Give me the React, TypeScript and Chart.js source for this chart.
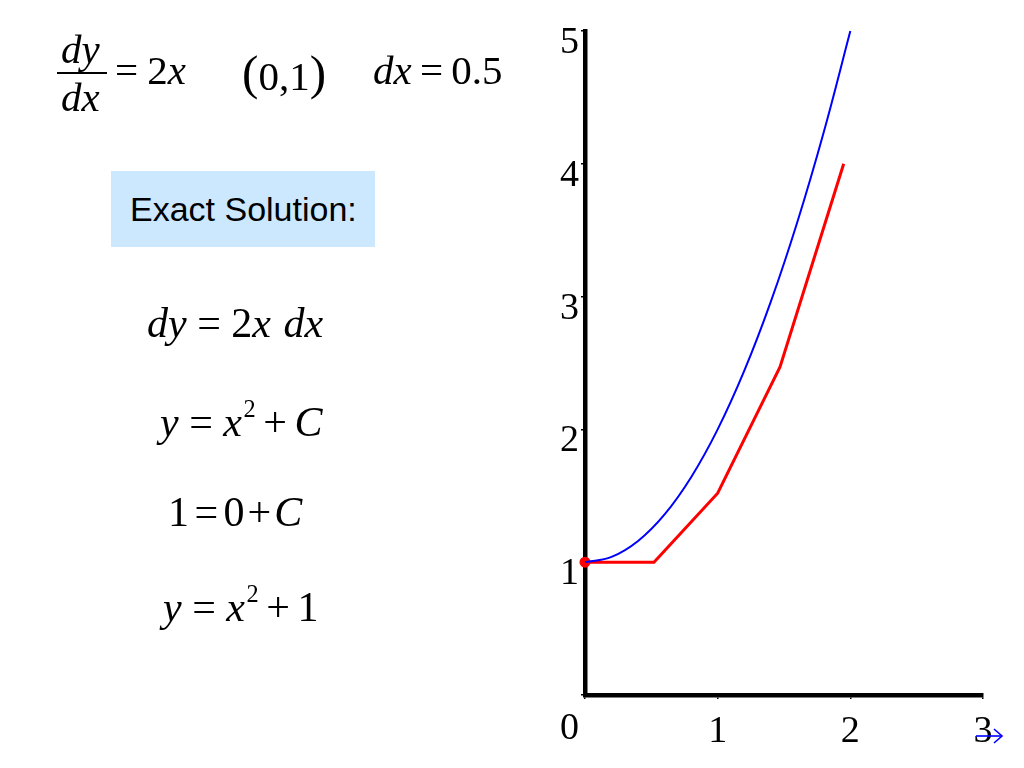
import React, { useEffect, useRef } from "react";
import { Chart, registerables } from "chart.js";

Chart.register(...registerables);

// Exact solution y = x^2 + 1
const exactX = [0, 0.2, 0.4, 0.6, 0.8, 1, 1.2, 1.4, 1.6, 1.8, 2];
const exactY = [1, 1.04, 1.16, 1.36, 1.64, 2, 2.44, 2.96, 3.56, 4.24, 5];
// Euler approximation (red polyline vertices)
const eulerX = [0, 0.52, 1, 1.47, 1.95];
const eulerY = [1, 1, 1.52, 2.47, 4];
// Initial point
const startX = [0];
const startY = [1];
// Axis ranges / ticks
const xTicks = [0, 1, 2, 3];
const yTicks = [0, 1, 2, 3, 4, 5];

const SERIF = "'Liberation Serif', 'Times New Roman', serif";
const SANS = "'Liberation Sans', Arial, sans-serif";

function pts(xs: number[], ys: number[]) {
  return xs.map((x, i) => ({ x, y: ys[i] }));
}

type EqProps = { left: number; baseline: number; size: number; children: React.ReactNode };
function Eq({ left, baseline, size, children }: EqProps) {
  return (
    <div
      style={{
        position: "absolute",
        left,
        top: baseline - 0.8375 * size,
        fontSize: size,
        lineHeight: 1,
        fontFamily: SERIF,
        whiteSpace: "nowrap",
        color: "#000",
      }}
    >
      {children}
    </div>
  );
}

const I = ({ children }: { children: React.ReactNode }) => (
  <span style={{ fontStyle: "italic" }}>{children}</span>
);
const Op = ({ children, m = 0.22 }: { children: React.ReactNode; m?: number }) => (
  <span style={{ margin: `0 ${m}em` }}>{children}</span>
);
const Sup = ({ children }: { children: React.ReactNode }) => (
  <span style={{ fontSize: "0.58em", verticalAlign: "0.8em", marginLeft: "0.06em" }}>{children}</span>
);

export default function App() {
  const canvasRef = useRef<HTMLCanvasElement | null>(null);

  useEffect(() => {
    if (!canvasRef.current) return;
    const chart = new Chart(canvasRef.current, {
      type: "scatter",
      data: {
        datasets: [
          {
            label: "Exact",
            data: pts(exactX, exactY),
            showLine: true,
            borderColor: "#0000FF",
            borderWidth: 2,
            pointRadius: 0,
            tension: 0.4,
            clip: false,
          },
          {
            label: "Euler",
            data: pts(eulerX, eulerY),
            showLine: true,
            borderColor: "#FF0000",
            borderWidth: 3,
            pointRadius: 0,
            tension: 0,
            clip: false,
          },
          {
            label: "Start",
            data: pts(startX, startY),
            showLine: false,
            pointRadius: 5.5,
            pointBackgroundColor: "#FF0000",
            pointBorderColor: "#FF0000",
            pointBorderWidth: 0,
            clip: false,
          },
        ],
      },
      options: {
        responsive: false,
        animation: false,
        devicePixelRatio: 1,
        layout: { padding: { top: 31, right: 41, left: 0, bottom: 0 } },
        plugins: { legend: { display: false }, tooltip: { enabled: false } },
        scales: {
          x: {
            type: "linear",
            min: xTicks[0],
            max: xTicks[xTicks.length - 1],
            afterBuildTicks: (s: any) => {
              s.ticks = xTicks.map((v) => ({ value: v }));
            },
            afterFit: (s: any) => {
              s.height = 73;
            },
            ticks: {
              autoSkip: false,
              maxRotation: 0,
              padding: 10,
              color: "#000",
              font: { family: SERIF, size: 38, lineHeight: 1.2 },
              callback: (v: any) => (Number(v) === 0 ? "" : String(v)),
            },
            grid: {
              drawOnChartArea: false,
              drawTicks: true,
              tickLength: 4,
              color: "#000",
              lineWidth: 1.5,
            },
            border: { display: true, color: "#000", width: 4.5 },
          },
          y: {
            type: "linear",
            min: yTicks[0],
            max: yTicks[yTicks.length - 1],
            afterBuildTicks: (s: any) => {
              s.ticks = yTicks.map((v) => ({ value: v }));
            },
            afterFit: (s: any) => {
              s.width = 585;
            },
            ticks: {
              autoSkip: false,
              padding: 2,
              color: "#000",
              font: (ctx: any) => ({
                family: SERIF,
                size: 38,
                lineHeight: ctx && ctx.tick && ctx.tick.value === 0 ? "34px" : "24px",
              }),
              callback: (v: any) =>
                Number(v) === 0 ? ["", "", String(v)] : ["", String(v)],
            },
            grid: {
              drawOnChartArea: false,
              drawTicks: true,
              tickLength: 4,
              color: "#000",
              lineWidth: 1.5,
            },
            border: { display: true, color: "#000", width: 4.5 },
          },
        },
      },
    });
    return () => chart.destroy();
  }, []);

  return (
    <div style={{ position: "absolute", left: 0, top: 0, width: 1024, height: 768, background: "#fff", overflow: "hidden" }}>
      <canvas
        ref={canvasRef}
        width={1024}
        height={768}
        style={{ position: "absolute", left: 0, top: 0, width: 1024, height: 768 }}
      />

      {/* dy/dx = 2x */}
      <Eq left={61} baseline={63} size={41}>
        <I>dy</I>
      </Eq>
      <div style={{ position: "absolute", left: 57, top: 72, width: 50, height: 2, background: "#000" }} />
      <Eq left={61} baseline={111} size={41}>
        <I>dx</I>
      </Eq>
      <Eq left={115} baseline={84} size={41}>
        <span>=</span>
        <span style={{ marginLeft: "0.22em" }}>2</span>
        <I>x</I>
      </Eq>
      {/* (0,1) */}
      <Eq left={242} baseline={82} size={41}>
        <span style={{ fontSize: "1.2em", verticalAlign: "0.02em" }}>(</span>
        <span>0,1</span>
        <span style={{ fontSize: "1.2em", verticalAlign: "0.02em" }}>)</span>
      </Eq>
      {/* dx = 0.5 */}
      <Eq left={373} baseline={84} size={41}>
        <I>dx</I>
        <Op m={0.2}>=</Op>
        <span>0.5</span>
      </Eq>

      {/* Exact Solution box */}
      <div
        style={{
          position: "absolute",
          left: 111,
          top: 171,
          width: 264,
          height: 76,
          background: "#CCE8FF",
          display: "flex",
          alignItems: "center",
          boxSizing: "border-box",
          paddingLeft: 19,
          fontFamily: SANS,
          fontSize: 34,
          color: "#000",
          whiteSpace: "nowrap",
        }}
      >
        Exact Solution:
      </div>

      <Eq left={147} baseline={337} size={42}>
        <I>dy</I>
        <Op m={0.25}>=</Op>
        <span>2</span>
        <I>x</I>
        <span style={{ marginLeft: "0.3em" }}>
          <I>dx</I>
        </span>
      </Eq>
      <Eq left={160} baseline={432} size={42}>
        <I>y</I>
        <Op m={0.25}>=</Op>
        <I>x</I>
        <Sup>2</Sup>
        <Op m={0.18}>+</Op>
        <I>C</I>
      </Eq>
      <Eq left={168} baseline={526} size={42}>
        <span>1</span>
        <Op m={0.13}>=</Op>
        <span>0</span>
        <Op m={0.07}>+</Op>
        <I>C</I>
      </Eq>
      <Eq left={163} baseline={617} size={42}>
        <I>y</I>
        <Op m={0.25}>=</Op>
        <I>x</I>
        <Sup>2</Sup>
        <Op m={0.18}>+</Op>
        <span>1</span>
      </Eq>

      {/* small navigation arrow */}
      <svg
        width={40}
        height={24}
        viewBox="0 0 40 24"
        style={{ position: "absolute", left: 972, top: 724 }}
      >
        <line x1={4} y1={12} x2={30} y2={12} stroke="#0000FF" strokeWidth={1.6} />
        <polyline points="22,5 30,12 22,19" fill="none" stroke="#0000FF" strokeWidth={1.6} />
      </svg>
    </div>
  );
}
